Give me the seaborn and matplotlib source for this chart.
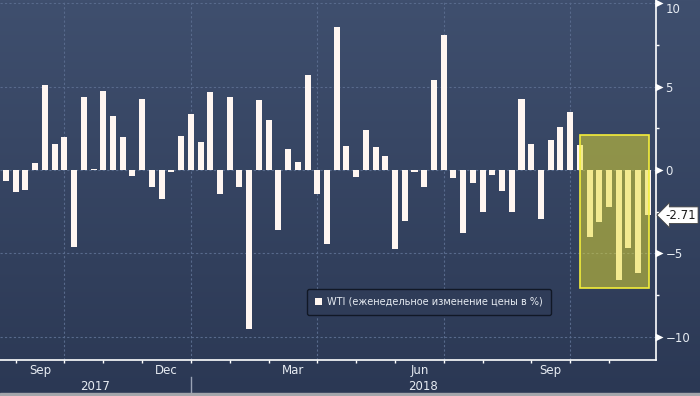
import numpy as np
import pandas as pd
import matplotlib
matplotlib.use('Agg')
import matplotlib.pyplot as plt
import seaborn as sns
from matplotlib.patches import Rectangle

# weekly WTI price change, %, one bar per Friday
weeks = pd.date_range('2017-08-25', periods=67, freq='W-FRI')
wti_change = [
    -0.66, -1.32, -1.20, 0.42, 5.10, 1.56, 2.00, -4.60, 4.38, 0.06,
    4.76, 3.24, 2.00, -0.36, 4.26, -1.00, -1.74, -0.12, 2.04, 3.36,
    1.68, 4.68, -1.44, 4.38, -1.00, -9.53, 4.20, 3.00, -3.60, 1.26,
    0.48, 5.70, -1.44, -4.44, 8.59, 1.44, -0.42, 2.40, 1.38, 0.84,
    -4.74, -3.06, -0.12, -1.02, 5.40, 8.10, -0.48, -3.78, -0.78, -2.52,
    -0.30, -1.26, -2.52, 4.26, 1.56, -2.94, 1.80, 2.58, 3.48, 1.50,
    -4.02, -3.12, -2.22, -6.60, -4.68, -6.18, -2.71,
]
y_ticks = [10, 5, 0, -5, -10]
y_minor = [7.5, 2.5, -2.5, -7.5]
series_name = 'WTI (еженедельное изменение цены в %)'
last_value = wti_change[-1]

df = pd.DataFrame({'week': weeks.strftime('%Y-%m-%d'), 'change': wti_change})

txt_col = '#e6ebf2'
grid_col = '#586a8c'
bar_col = '#fff6f1'

fig = plt.figure(figsize=(7, 3.96), dpi=100)

# gradient background over the whole figure
bg = fig.add_axes([0, 0, 1, 1], zorder=-10)
grad = np.linspace(0, 1, 256).reshape(-1, 1)
top = np.array([0x3f, 0x4f, 0x6e]) / 255
bot = np.array([0x2b, 0x38, 0x54]) / 255
img = top + (bot - top) * grad[:, :, None]
bg.imshow(img, aspect='auto', extent=[0, 1, 0, 1])
bg.set_axis_off()
fig.patches.append(Rectangle((0, 0), 1, 3 / 396, transform=fig.transFigure,
                             color='#a3a6ab', zorder=5))

ax = fig.add_axes([0, 1 - 360 / 396, 655.7 / 700, 360 / 396])
ax.set_facecolor('none')

sns.barplot(data=df, x='week', y='change', color=bar_col, saturation=1,
            width=0.62, ax=ax, label=series_name, zorder=3)

x0, x1 = -0.62, 66.8
ax.set_xlim(x0, x1)
ax.set_ylim(-11.4, 10.2)

# highlight of the last weeks
ax.add_patch(Rectangle((59.0, -7.05), 7.1, 9.15, facecolor='#e8e030', alpha=0.5,
                       edgecolor='none', zorder=4))
ax.add_patch(Rectangle((59.0, -7.05), 7.1, 9.15, facecolor='none',
                       edgecolor='#f4ee3a', lw=1.2, zorder=5))

# month ticks
starts = [i for i in range(1, len(weeks)) if weeks[i].month != weeks[i - 1].month]
ax.set_xticks(starts, [''] * len(starts))
bounds = starts + [x1]
mids, names = [], []
for k, s in enumerate(starts):
    if weeks[s].month in (3, 6, 9, 12):
        mids.append((s + bounds[k + 1]) / 2)
        names.append(weeks[s].strftime('%b'))
    if weeks[s].month in (1, 4, 7, 10):
        ax.axvline(s, color=grid_col, lw=0.8, ls=(0, (2, 2)), zorder=1)
ax.set_xticks(mids, names, minor=True)
ax.tick_params(axis='x', which='major', direction='out', length=2.5, width=1,
               color='white')
ax.tick_params(axis='x', which='minor', length=0, pad=3, labelsize=8.5,
               labelcolor=txt_col)
ax.set_xlabel('')

# years under months
jan = [s for s in starts if weeks[s].month == 1][0]
trans = ax.get_xaxis_transform()
ax.text((x0 + jan) / 2, -26 / 360, '2017', transform=trans, ha='center',
        va='center', fontsize=8.5, color=txt_col)
ax.text((jan + x1) / 2, -26 / 360, '2018', transform=trans, ha='center',
        va='center', fontsize=8.5, color=txt_col)
ax.plot([jan, jan], [-17 / 360, -33 / 360], transform=trans, color='#9aa3b5',
        lw=1, clip_on=False)

# y axis on the right
ax.yaxis.tick_right()
ax.set_yticks(y_ticks)
ax.set_yticks(y_minor, minor=True)
ax.tick_params(axis='y', which='major', length=0, pad=7, labelsize=8.5,
               labelcolor=txt_col)
ax.tick_params(axis='y', which='minor', direction='out', length=2.5, width=1,
               color='white')
ax.set_ylabel('')
for lab in ax.get_yticklabels():
    if lab.get_text() == '10':
        lab.set_va('top')
ytrans = ax.get_yaxis_transform()
ax.plot([1 + 3.5 / 655.7] * len(y_ticks), y_ticks, ls='none', marker='>',
        ms=6, color='white', mec='none', transform=ytrans, clip_on=False)
for v in y_ticks:
    ax.axhline(v, color=grid_col, lw=0.8, ls=(0, (2, 2)), zorder=1)

for side in ['top', 'left']:
    ax.spines[side].set_visible(False)
for side in ['right', 'bottom']:
    ax.spines[side].set_color('white')
    ax.spines[side].set_linewidth(1.2)

# last value tag
ax.text(1 + 10 / 655.7, last_value, f'{last_value:.2f}', transform=ytrans,
        ha='left', va='center', fontsize=8.5, color='#1b1b1b',
        bbox=dict(boxstyle='larrow,pad=0.15', facecolor='white',
                  edgecolor='#444444', lw=0.6), clip_on=False)

leg = ax.legend(loc='upper left', bbox_to_anchor=(307 / 700, 1 - 289 / 396),
                bbox_transform=fig.transFigure, fontsize=7, frameon=True,
                handlelength=0.7, handleheight=0.8, handletextpad=0.6,
                borderpad=0.8, borderaxespad=0, fancybox=True)
leg.get_frame().set_facecolor('#2f3c58')
leg.get_frame().set_edgecolor('#111826')
leg.get_frame().set_linewidth(1.0)
leg.get_frame().set_alpha(1)
for t in leg.get_texts():
    t.set_color(txt_col)

fig.savefig('out.png', dpi=100)
